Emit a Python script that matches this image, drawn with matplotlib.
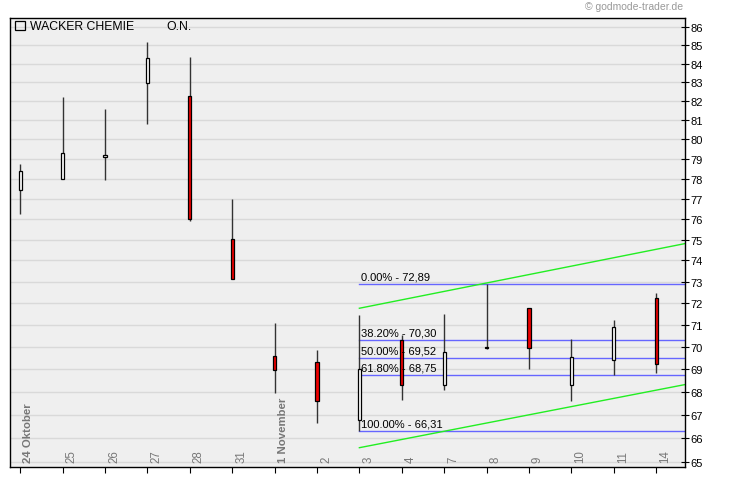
import matplotlib
matplotlib.use("Agg")
import matplotlib.pyplot as plt
from matplotlib.patches import Rectangle
from matplotlib.ticker import FixedLocator, NullLocator, FixedFormatter
import numpy as np

plt.rcParams["font.family"] = ["Liberation Sans", "DejaVu Sans"]

# daily candles, WACKER CHEMIE O.N.
dates = ["24 Oktober", "25", "26", "27", "28", "31", "1 November", "2",
         "3", "4", "7", "8", "9", "10", "11", "14"]
bold_dates = ["24 Oktober", "1 November"]
open_ = [77.43, 77.99, 79.10, 82.93, 82.24, 75.04, 69.60, 69.33,
         66.77, 70.31, 68.28, 69.97, 71.76, 68.28, 69.43, 72.22]
close = [78.40, 79.29, 79.20, 84.28, 76.00, 73.12, 68.95, 67.60,
         69.02, 68.28, 69.76, 69.95, 69.94, 69.54, 70.91, 69.22]
high = [78.74, 82.20, 81.58, 85.17, 84.35, 76.97, 71.06, 69.87,
        71.45, 70.55, 71.48, 72.89, 71.76, 70.37, 71.21, 72.46]
low = [76.24, 77.99, 77.92, 80.80, 75.92, 73.12, 67.95, 66.67,
       66.31, 67.63, 68.07, 69.88, 68.99, 67.58, 68.75, 68.84]

# fibonacci retracement, starting at candle "3"
fib_start = 8
fib_pct = [0.0, 38.2, 50.0, 61.8, 100.0]
fib_val = [72.89, 70.30, 69.52, 68.75, 66.31]

# trend channel (green)
chan_x = [8, 15.68]
chan_upper = [71.76, 74.81]
chan_lower = [65.60, 68.32]

yticks = list(range(65, 87))

fig = plt.figure(figsize=(7.30, 4.81), dpi=100)
ax = fig.add_axes([10 / 730, 13 / 481, 675 / 730, 449 / 481])
ax.set_facecolor("#efefef")
ax.set_yscale("log")
ax.set_xlim(-0.24, 15.68)
ax.set_ylim(64.79, 86.5)

for y in yticks:
    ax.axhline(y, color="#d9d9d9", lw=1, zorder=0)

x = np.arange(len(dates))
ax.vlines(x, low, high, color="#333333", lw=1, zorder=2)
bw = 0.075
for i in x:
    o, c = open_[i], close[i]
    lo, hi = min(o, c), max(o, c)
    face = "white" if c >= o else "#ee0000"
    ax.add_patch(Rectangle((i - bw / 2, lo), bw, hi - lo, facecolor=face,
                           edgecolor="black", lw=0.9, zorder=3))

xe = ax.get_xlim()[1]
for p, v in zip(fib_pct, fib_val):
    ax.plot([fib_start, xe], [v, v], color="#6666ff", lw=1, zorder=1)
    txt = "%.2f%% - %s" % (p, ("%.2f" % v).replace(".", ","))
    ax.text(fib_start + 0.04, v * 1.0015, txt,
            fontsize=8, va="bottom", ha="left", zorder=4)

ax.plot(chan_x, chan_upper, color="#22ee22", lw=1, zorder=2)
ax.plot(chan_x, chan_lower, color="#22ee22", lw=1, zorder=2)

ax.yaxis.tick_right()
ax.yaxis.set_major_locator(FixedLocator(yticks))
ax.yaxis.set_major_formatter(FixedFormatter([str(v) for v in yticks]))
ax.yaxis.set_minor_locator(NullLocator())
ax.tick_params(axis="y", which="major", direction="inout", length=6,
               labelsize=8, pad=1, width=0.8)

ax.set_xticks(x)
ax.set_xticklabels([])
ax.tick_params(axis="x", direction="out", length=4, width=0.8)

for i, d in enumerate(dates):
    bold = d in bold_dates
    ax.text(i + 0.07, 0.012, d, transform=ax.get_xaxis_transform(),
            rotation=90, ha="left", va="bottom", color="#777777",
            fontsize=8.2 if bold else 8.3, fontweight="bold" if bold else "normal")

for s in ax.spines.values():
    s.set_linewidth(1)
    s.set_color("black")

# legend box + title
ax.add_patch(Rectangle((5 / 675, 1 - 12 / 449), 10 / 675, 9 / 449, transform=ax.transAxes,
                       fill=False, edgecolor="black", lw=0.9, zorder=5))
ax.text(20 / 675, 1 - 7.5 / 449, "WACKER CHEMIE", transform=ax.transAxes,
        fontsize=8.8, va="center", ha="left")
ax.text(156 / 675, 1 - 7.5 / 449, "O.N.", transform=ax.transAxes,
        fontsize=8.8, va="center", ha="left")

fig.text(683 / 730, 1 - 7 / 481, "© godmode-trader.de", fontsize=7.5,
         color="#999999", ha="right", va="center")

fig.savefig("out.png", dpi=100)
